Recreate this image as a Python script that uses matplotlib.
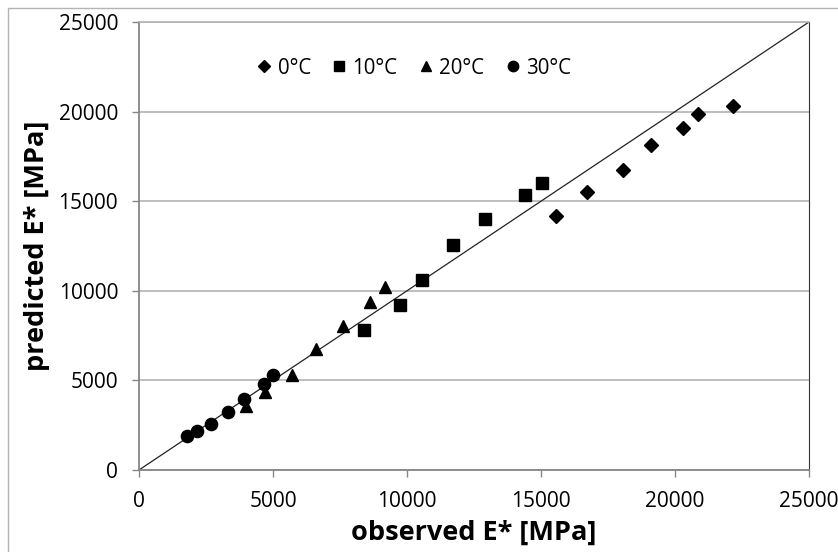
import matplotlib
matplotlib.use("Agg")
import matplotlib.pyplot as plt
from matplotlib.patches import Rectangle

plt.rcParams['font.family'] = ['Open Sans', 'DejaVu Sans']

# Data (observed, predicted) in MPa
obs_0 = [15570, 16730, 18060, 19120, 20300, 20870, 22150]
pred_0 = [14180, 15510, 16730, 18150, 19090, 19870, 20290]

obs_10 = [8410, 9750, 10550, 11720, 12900, 14410, 15030]
pred_10 = [7840, 9190, 10600, 12530, 13980, 15320, 16020]

obs_20 = [4010, 4720, 5720, 6620, 7620, 8630, 9170]
pred_20 = [3590, 4360, 5300, 6780, 8010, 9390, 10210]

obs_30 = [1790, 2170, 2670, 3330, 3930, 4670, 5000]
pred_30 = [1870, 2200, 2570, 3260, 3950, 4790, 5280]

labels = ['0°C', '10°C', '20°C', '30°C']
ticks = [0, 5000, 10000, 15000, 20000, 25000]
line_1to1 = [0, 25000]

fig = plt.figure(figsize=(8.38, 5.52), dpi=100)
ax = fig.add_axes([139/838, 1-470/552, (809-139)/838, (470-22)/552])

# figure border
fig.patches.append(Rectangle((8/838, -0.05), 1.1, 1 - 7.5/552 + 0.05,
                             transform=fig.transFigure, fill=False,
                             edgecolor='#b4b4b4', linewidth=1.0))

grid_c = '#b3b3b3'
axis_c = '#868686'

ax.plot(line_1to1, line_1to1, color='#222222', lw=0.9, zorder=2)

ms = dict(color='black', linestyle='none', zorder=3)
ax.plot(obs_0, pred_0, marker='D', markersize=6.8, label=labels[0], **ms)
ax.plot(obs_10, pred_10, marker='s', markersize=8, label=labels[1], **ms)
ax.plot(obs_20, pred_20, marker='^', markersize=8.2, label=labels[2], **ms)
ax.plot(obs_30, pred_30, marker='o', markersize=8.8, label=labels[3], **ms)

ax.set_xlim(0, 25000)
ax.set_ylim(0, 25000)
ax.set_xticks(ticks)
ax.set_yticks(ticks)
ax.set_xticklabels([str(t) for t in ticks])
ax.set_yticklabels([str(t) for t in ticks])

ax.yaxis.grid(True, color=grid_c, lw=1.2, zorder=0)
ax.set_axisbelow(True)

for s in ['left', 'bottom']:
    ax.spines[s].set_color(axis_c)
    ax.spines[s].set_linewidth(1.3)
ax.spines['top'].set_color(grid_c)
ax.spines['top'].set_linewidth(1.2)
ax.spines['right'].set_color('#333333')
ax.spines['right'].set_linewidth(0.8)

ax.tick_params(axis='both', direction='out', length=5, width=1, color=axis_c,
               labelsize=15)
ax.tick_params(axis='y', pad=10)
ax.tick_params(axis='x', pad=10)

ax.set_xlabel('observed E* [MPa]', fontsize=19.5, fontweight='bold', labelpad=6)
ax.set_ylabel('predicted E* [MPa]', fontsize=19.5, fontweight='bold', labelpad=6)

leg = ax.legend(loc='upper left', bbox_to_anchor=(0.15, 0.962), ncol=4,
                frameon=False, fontsize=14.8, handlelength=0.6,
                handletextpad=0.35, columnspacing=1.08, markerscale=0.85)

fig.savefig('out.png', dpi=100)
